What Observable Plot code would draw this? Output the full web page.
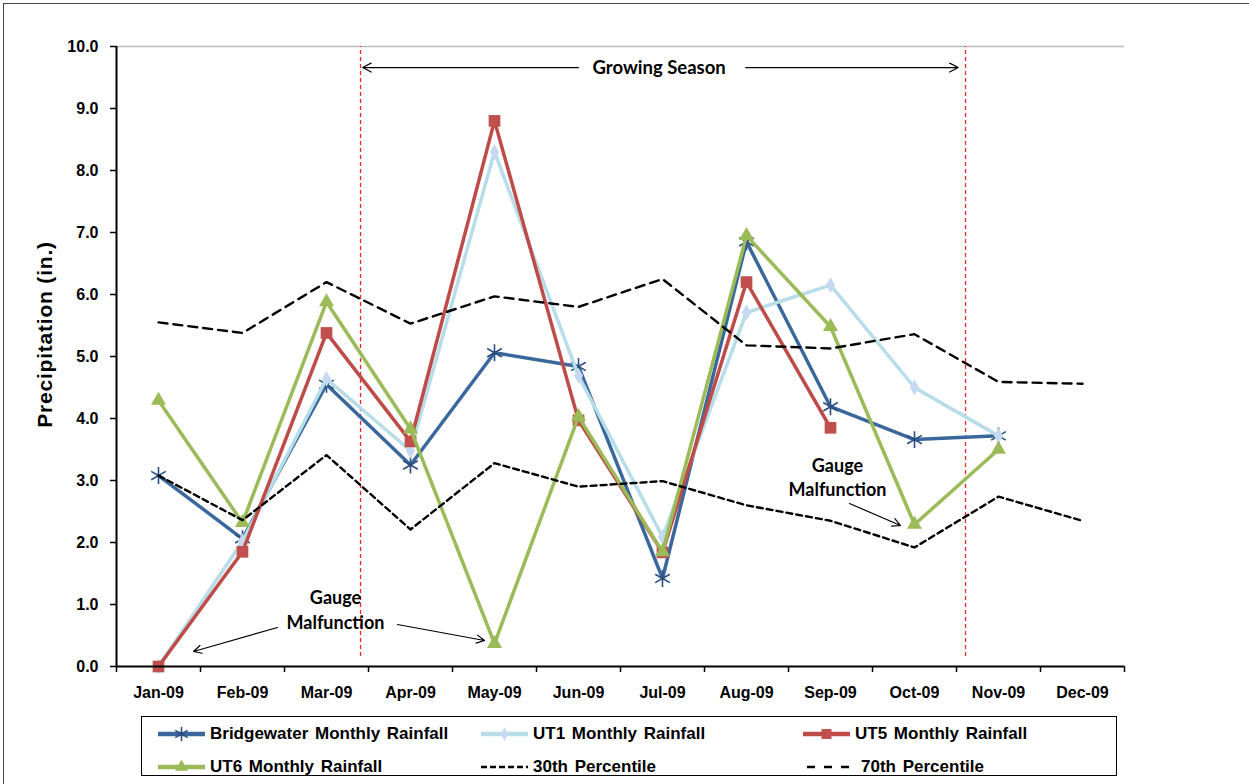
<!DOCTYPE html>
<html><head><meta charset="utf-8">
<script src="https://cdn.jsdelivr.net/npm/d3@7"></script>
<script src="https://cdn.jsdelivr.net/npm/@observablehq/plot@0.6"></script>
<style>
body{margin:0;background:#fff;font-family:"Liberation Sans",Arial,sans-serif;}
#wrap{position:relative;width:1249px;height:784px;overflow:hidden;background:#fff;}
#frame{position:absolute;left:3px;top:3px;width:1300px;height:900px;border-left:1.5px solid #444;border-top:1.5px solid #444;}
#chart{position:absolute;left:0;top:0;}
#legend{position:absolute;left:141px;top:716px;width:974px;height:58px;border:1.5px solid #000;background:#fff;}
.item{position:absolute;height:24px;font-weight:bold;font-size:17px;color:#000;white-space:nowrap;word-spacing:2px;}
.item svg{position:absolute;left:0;top:2px;}
.item span{position:absolute;top:2px;line-height:20px;}
</style></head>
<body>
<div id="wrap"><div id="frame"></div><div id="chart"></div><div id="legend"></div></div>
<script>
const months = ["Jan-09","Feb-09","Mar-09","Apr-09","May-09","Jun-09","Jul-09","Aug-09","Sep-09","Oct-09","Nov-09","Dec-09"];
const bridgewater = [3.08,2.06,4.55,3.25,5.06,4.84,1.42,6.85,4.19,3.66,3.72,null];
const ut1 = [0.0,2.02,4.64,3.48,8.30,4.69,2.09,5.71,6.15,4.50,3.72,null];
const ut5 = [0.0,1.85,5.38,3.63,8.80,3.97,1.84,6.20,3.85,null,null,null];
const ut6 = [4.29,2.32,5.88,3.83,0.37,4.03,1.85,6.95,5.48,2.29,3.50,null];
const p70 = [5.55,5.38,6.20,5.53,5.97,5.80,6.25,5.18,5.13,5.36,4.59,4.56];
const p30 = [3.08,2.36,3.41,2.21,3.28,2.90,2.99,2.60,2.35,1.92,2.74,2.35];
const yTicks = [0,1,2,3,4,5,6,7,8,9,10];

const seriesNames = ["Bridgewater Monthly Rainfall","UT1 Monthly Rainfall","UT5 Monthly Rainfall","UT6 Monthly Rainfall","30th Percentile","70th Percentile"];
const seriesValues = [bridgewater, ut1, ut5, ut6, p30, p70];
const lineColors = ["#3A679C","#B7DDE8","#BE4B48","#9BBB59","#000","#000"];
const markerSymbols = ["asterisk","diamond","square","triangle",null,null];
const markerColors = ["#2B4F80","#C6D9F1","#C0504D","#9BBB59",null,null];
const markerR = [8,4.8,6.6,5.6,0,0];
const dashes = [null,null,null,null,"6,4","9,6"];

// annotations (data units: month index, inches)
const seasonBounds = [2.405, 9.607];
const seasonArrows = [{x1:5.0,y1:9.66,x2:2.43,y2:9.66},{x1:6.99,y1:9.66,x2:9.52,y2:9.66}];
const seasonLabel = [{x:5.96,y:9.66,text:"Growing Season"}];
const gaugeLabels = [
  {x:2.107,y:1.097,text:"Gauge"},{x:2.107,y:0.694,text:"Malfunction"},
  {x:8.083,y:3.226,text:"Gauge"},{x:8.083,y:2.839,text:"Malfunction"}];
const gaugeArrows = [{x1:1.417,y1:0.629,x2:0.417,y2:0.242},{x1:2.845,y1:0.677,x2:3.881,y2:0.419},{x1:8.226,y1:2.629,x2:8.833,y2:2.274}];
const yTitle = [{x:-1.345,y:5.355,text:"Precipitation (in.)"}];

const rows = [];
seriesNames.forEach((s,k)=>seriesValues[k].forEach((v,i)=>rows.push({series:s,k,i,v})));

const marks = [
  Plot.ruleY([10],{stroke:"#bbb",strokeWidth:1.5}),
  Plot.ruleX(seasonBounds,{y1:0.16,y2:10,stroke:"#FF2020",strokeWidth:1.3,strokeDasharray:"4,3"}),
];
[0,1,2,3].forEach(k=>{
  const d = rows.filter(r=>r.k===k);
  marks.push(Plot.line(d,{x:"i",y:"v",stroke:lineColors[k],strokeWidth:3.5,defined:r=>r.v!=null}));
  marks.push(Plot.dot(d.filter(r=>r.v!=null),{x:"i",y:"v",symbol:markerSymbols[k],r:markerR[k],
    fill: markerSymbols[k]==="asterisk"?"none":markerColors[k],
    stroke: markerSymbols[k]==="asterisk"?markerColors[k]:"none",strokeWidth:1.6}));
});
[4,5].forEach(k=>{
  const d = rows.filter(r=>r.k===k);
  marks.push(Plot.line(d,{x:"i",y:"v",stroke:"#000",strokeWidth:2.4,strokeDasharray:dashes[k]}));
});
marks.push(
  Plot.arrow(seasonArrows,{x1:"x1",y1:"y1",x2:"x2",y2:"y2",stroke:"#000",strokeWidth:1.2,headLength:12,headAngle:55}),
  Plot.text(seasonLabel,{x:"x",y:"y",text:"text",fontFamily:"Lato",fontWeight:"bold",fontSize:18.5,fill:"#000"}),
  Plot.arrow(gaugeArrows,{x1:"x1",y1:"y1",x2:"x2",y2:"y2",stroke:"#000",strokeWidth:1.2,headLength:11,headAngle:55}),
  Plot.text(gaugeLabels,{x:"x",y:"y",text:"text",fontFamily:"Lato",fontWeight:"bold",fontSize:18,fill:"#000"}),
  Plot.ruleY([0],{stroke:"#000",strokeWidth:2}),
  Plot.ruleX([-0.5],{stroke:"#000",strokeWidth:2}),
  Plot.axisY({ticks:yTicks,tickFormat:d=>d.toFixed(1),tickSize:6,tickPadding:12,fontSize:16,fontWeight:"bold",label:null,strokeWidth:1.5}),
  Plot.axisX({ticks:d3.range(-0.5,12,1),tickFormat:()=>"",tickSize:6,label:null,strokeWidth:1.5}),
  Plot.axisX({ticks:d3.range(0,12),tickFormat:i=>months[i],tickSize:0,tickPadding:20,fontSize:16,fontWeight:"bold",label:null}),
  Plot.text(yTitle,{x:"x",y:"y",text:"text",rotate:-90,fontSize:21,fontWeight:"bold",fill:"#000",clip:false,
    render:(i,s,v,d,c,next)=>{const g=next(i,s,v,d,c); g.querySelectorAll("text").forEach(t=>t.setAttribute("letter-spacing","0.8")); return g;}})
);

const chart = Plot.plot({
  width:1249,height:700,
  marginLeft:116,marginRight:125,marginTop:46,marginBottom:34,
  x:{type:"linear",domain:[-0.5,11.5]},
  y:{domain:[0,10]},
  style:{fontFamily:"'Liberation Sans', Arial, sans-serif",color:"#000",background:"transparent",overflow:"visible"},
  marks
});
document.getElementById("chart").append(chart);

// legend
const legend = document.getElementById("legend");
const pos = [[16,5],[339,5],[661,5],[16,38],[339,38],[665,38]];
seriesNames.forEach((s,k)=>{
  const div = document.createElement("div");
  div.className="item";
  div.style.left=pos[k][0]+"px"; div.style.top=pos[k][1]+"px";
  const w = k===5?42:47, h=20;
  let svg=`<svg width="${w}" height="${h}">`;
  svg+=`<line x1="0" x2="${w}" y1="${h/2}" y2="${h/2}" stroke="${lineColors[k]}" stroke-width="${k<4?4.5:2.4}" ${dashes[k]?`stroke-dasharray="${k===4?'6,3':'8,9'}"`:''}/>`;
  const sym = markerSymbols[k];
  if(sym){
    const map={asterisk:d3.symbolAsterisk,diamond:d3.symbolDiamond,square:d3.symbolSquare,triangle:d3.symbolTriangle};
    const r=markerR[k]*0.85;
    const p=d3.symbol(map[sym],Math.PI*r*r)();
    svg+=`<path transform="translate(${w/2},${h/2})" d="${p}" fill="${sym==='asterisk'?'none':markerColors[k]}" stroke="${sym==='asterisk'?markerColors[k]:'none'}" stroke-width="1.5"/>`;
  }
  svg+="</svg>";
  div.innerHTML=svg+`<span style="left:${52 - (k===5?-2:0)}px">${s}</span>`;
  legend.append(div);
});
</script>
</body></html>
